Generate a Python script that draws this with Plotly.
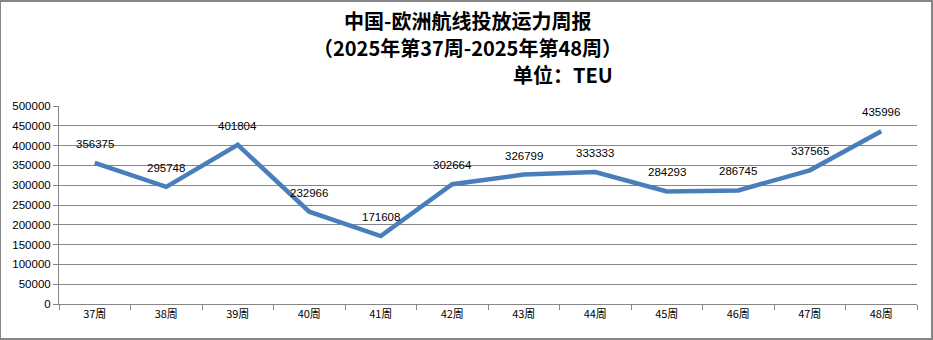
import plotly.graph_objects as go

weeks = ["37周", "38周", "39周", "40周", "41周", "42周", "43周", "44周", "45周", "46周", "47周", "48周"]
capacity = [356375, 295748, 401804, 232966, 171608, 302664, 326799, 333333, 284293, 286745, 337565, 435996]
y_ticks = [0, 50000, 100000, 150000, 200000, 250000, 300000, 350000, 400000, 450000, 500000]

title_lines = ["中国-欧洲航线投放运力周报", "（2025年第37周-2025年第48周）", "单位：TEU"]

fig = go.Figure()
fig.add_trace(go.Scatter(
    x=weeks, y=capacity, mode="lines",
    line=dict(color="#4a7ebb", width=4.5),
    hoverinfo="x+y", showlegend=False,
))

for w, v in zip(weeks, capacity):
    fig.add_annotation(x=w, y=v, text=str(v), showarrow=False, yshift=19,
                       font=dict(family="Liberation Sans, Arial", size=11.5, color="#000000"))

cjk = "Noto Sans CJK SC"
fig.add_annotation(xref="paper", yref="paper", x=0.5, y=1, xshift=-21, yshift=86, text="<b>%s</b>" % title_lines[0],
                   showarrow=False, xanchor="center", yanchor="middle",
                   font=dict(family=cjk, size=20, color="#000000"))
fig.add_annotation(xref="paper", yref="paper", x=0.5, y=1, xshift=-21, yshift=59, text="<b>%s</b>" % title_lines[1],
                   showarrow=False, xanchor="center", yanchor="middle",
                   font=dict(family=cjk, size=20, color="#000000"))
fig.add_annotation(xref="paper", yref="paper", x=0.5, y=1, xshift=75, yshift=32, text="<b>%s</b>" % title_lines[2],
                   showarrow=False, xanchor="center", yanchor="middle",
                   font=dict(family=cjk, size=20, color="#000000"))

fig.update_layout(
    width=933, height=340,
    margin=dict(l=59, r=16, t=106, b=36),
    paper_bgcolor="#ffffff", plot_bgcolor="#ffffff",
    xaxis=dict(
        type="category", tickson="boundaries", ticks="outside", ticklen=5,
        tickcolor="#868686", showline=True, linecolor="#868686", linewidth=1,
        showgrid=False, tickfont=dict(family="Noto Sans CJK SC", size=11, color="#000000"),
        range=[-0.5, 11.5], fixedrange=True,
    ),
    yaxis=dict(
        range=[0, 500000], tickvals=y_ticks, ticktext=[str(t) for t in y_ticks],
        ticks="outside", ticklen=5, tickcolor="#868686",
        showline=True, linecolor="#868686", linewidth=1,
        showgrid=True, gridcolor="#868686", gridwidth=1, zeroline=False,
        tickfont=dict(family="Liberation Sans, Arial", size=11.5, color="#000000"),
        fixedrange=True,
    ),
)
# outer chart border
fig.add_shape(type="rect", xref="paper", yref="paper",
              x0=-59/858, x1=1+15/858, y0=-35/198, y1=1+105/198,
              line=dict(color="#868686", width=2), layer="below")

fig.write_html("out.html")
